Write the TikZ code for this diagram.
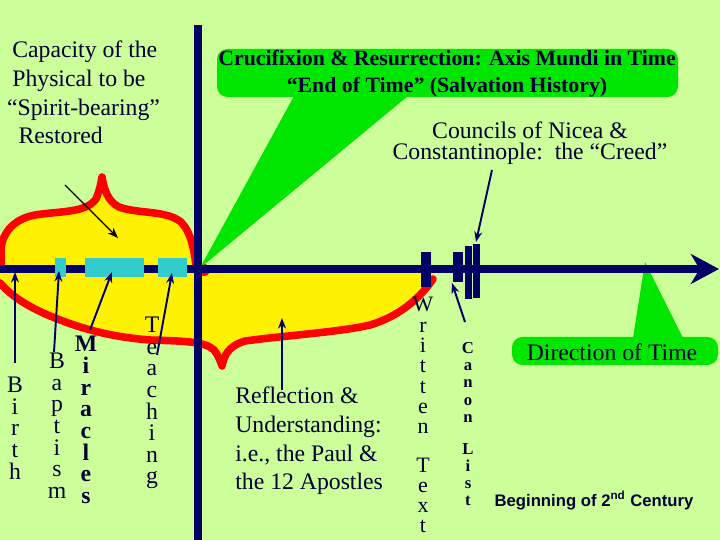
\documentclass[tikz,border=0pt]{standalone}
\usepackage{fontspec}
\setmainfont{Liberation Serif}
\setsansfont{Liberation Sans}
\usetikzlibrary{arrows.meta}
\definecolor{paleground}{RGB}{204,255,153}
\definecolor{navy}{RGB}{0,0,102}
\definecolor{inkblue}{RGB}{0,0,51}
\definecolor{calloutgreen}{RGB}{0,230,0}
\definecolor{eventcyan}{RGB}{51,204,204}
\definecolor{rimred}{RGB}{255,0,0}
\tikzset{
  axisline/.style={navy, line width=4pt},
  rim/.style={rimred, line width=4.3pt, line cap=round, line join=round},
  ptr/.style={navy, line width=1.1pt, -{Stealth[length=6pt,width=4.5pt]}},
  vword/.style={inkblue, anchor=base, inner sep=0pt, font=\fontsize{13.5}{13.5}\selectfont},
  vnarrow/.style={vword, font=\fontsize{12.5}{12.5}\selectfont},
  vbold/.style={vword, font=\fontsize{13.5}{13.5}\selectfont\bfseries},
  vsmall/.style={vword, font=\fontsize{9.5}{9.5}\selectfont\bfseries},
  blurb/.style={inkblue, inner sep=0pt}
}
\begin{document}
\begin{tikzpicture}[x=0.02cm, y=-0.02cm, font=\fontsize{13.5}{16.3}\selectfont]
  \useasboundingbox (0,0) rectangle (720,540);
  \fill[paleground] (0,0) rectangle (720,540);
  % the two yellow fields
  \fill[yellow] (0,269) -- (1,248) .. controls (3,232) and (14,219) .. (35,215)
    .. controls (60,211) and (86,213) .. (96,199) .. controls (99,192) and (101,184) .. (102,177)
    .. controls (104,188) and (107,201) .. (119,207) .. controls (138,214) and (166,210) .. (181,222)
    .. controls (191,232) and (195,252) .. (196,269) -- cycle;
  \fill[yellow] (0,269) -- (0,283) .. controls (12,297) and (30,308) .. (55,318)
    .. controls (80,328) and (110,337) .. (150,340) .. controls (180,341) and (205,341) .. (214,350)
    .. controls (218,355) and (220,360) .. (222,366) .. controls (224,356) and (228,346) .. (245,341)
    .. controls (290,335) and (340,332) .. (370,325) .. controls (400,316) and (420,298) .. (433,279)
    -- (433,269) -- cycle;
  \draw[rim] (1,268) -- (1,248) .. controls (3,232) and (14,219) .. (35,215)
    .. controls (60,211) and (86,213) .. (96,199) .. controls (99,192) and (101,184) .. (102,177)
    .. controls (104,188) and (107,201) .. (119,207) .. controls (138,214) and (166,210) .. (181,222)
    .. controls (191,232) and (195,252) .. (196,269);
  \fill[rimred] (204,270) circle (6);
  \draw[rim] (0,283) .. controls (12,297) and (30,308) .. (55,318)
    .. controls (80,328) and (110,337) .. (150,340) .. controls (180,341) and (205,341) .. (214,350)
    .. controls (218,355) and (220,360) .. (222,366) .. controls (224,356) and (228,346) .. (245,341)
    .. controls (290,335) and (340,332) .. (370,325) .. controls (400,316) and (420,298) .. (433,279);
  % callouts
  \fill[calloutgreen, rounded corners=6] (217,49) rectangle (678,97);
  \fill[calloutgreen] (294,96) -- (200,268) -- (408,96) -- cycle;
  \fill[calloutgreen, rounded corners=6] (512,337) rectangle (718,365);
  \fill[calloutgreen] (633,338) -- (645,262) -- (683,338) -- cycle;
  % axes
  \coordinate (tstart) at (0,269);
  \coordinate (tend) at (719,269);
  \coordinate (mundi-top) at (198,25);
  \coordinate (mundi-bot) at (198,540);
  \draw[axisline, -{Stealth[length=16pt,width=17pt,inset=5pt]}] (tstart) -- (tend);
  \draw[axisline, line width=4.5pt] (mundi-top) -- (mundi-bot);
  \foreach \lft/\rgt in {55/66,85/144,158/187}
    \fill[eventcyan] (\lft,258) rectangle (\rgt,277);
  \foreach \lft/\rgt/\top/\bot in {421/431/252/287,453/463/252/282,465/472/246/299,473/480/244/298}
    \fill[navy] (\lft,\top) rectangle (\rgt,\bot);
  % labels
  \node[blurb, anchor=north west, align=left] (capacity) at (12,40.7)
    {Capacity of the\\Physical to be\\\hspace*{-3pt}“Spirit-bearing”\\\hspace*{3.5pt}Restored};
  \node[blurb, align=center, font=\bfseries\fontsize{12.4}{15.3}\selectfont] (crosstxt) at (447,74)
    {Crucifixion \& Resurrection: Axis Mundi in Time\\“End of Time” (Salvation History)};
  \node[blurb, align=center, font=\fontsize{13.5}{12}\selectfont] (councils) at (530,143.5)
    {Councils of Nicea \&\\Constantinople:\ \ the “Creed”};
  \node[blurb, anchor=north west, align=left] (reflect) at (235,386.7)
    {Reflection \&\\Understanding:\\i.e., the Paul \&\\the 12 Apostles};
  \node[blurb, anchor=base] (direction) at (612,360) {Direction of Time};
  \node[blurb, anchor=base, font=\sffamily\bfseries\fontsize{9.5}{11}\selectfont] (secondcent) at (594,506)
    {Beginning of 2\textsuperscript{nd} Century};
  \foreach \ch [count=\k] in {B,i,r,t,h}
    \node[vword] (birth-\k) at (15,{393+21.5*(\k-1)}) {\ch};
  \foreach \ch [count=\k] in {B,a,p,t,i,s,m}
    \node[vword] (baptism-\k) at (57,{369+21.5*(\k-1)}) {\ch};
  \foreach \ch [count=\k] in {M,i,r,a,c,l,e,s}
    \node[vbold] (miracles-\k) at (86,{352+21.6*(\k-1)}) {\ch};
  \foreach \ch [count=\k] in {T,e,a,c,h,i,n,g}
    \node[vword] (teaching-\k) at (152,{333+21.5*(\k-1)}) {\ch};
  \foreach \ch [count=\k] in {W,r,i,t,t,e,n}
    \node[vnarrow] (written-\k) at (423,{312+20.3*(\k-1)}) {\ch};
  \foreach \ch [count=\k] in {T,e,x,t}
    \node[vnarrow] (text-\k) at (423,{472+20.3*(\k-1)}) {\ch};
  \foreach \ch [count=\k] in {C,a,n,o,n}
    \node[vsmall] (canon-\k) at (468,{354+17*(\k-1)}) {\ch};
  \foreach \ch [count=\k] in {L,i,s,t}
    \node[vsmall] (list-\k) at (468,{454+17*(\k-1)}) {\ch};
  % pointers
  \coordinate (capacity-tail) at (65,185);
  \coordinate (capacity-tip) at (118,238);
  \coordinate (birth-tail) at (15,363);
  \coordinate (birth-tip) at (15,272);
  \coordinate (baptism-tail) at (54,352);
  \coordinate (baptism-tip) at (59,271);
  \coordinate (miracles-tail) at (90,330);
  \coordinate (miracles-tip) at (112,272);
  \coordinate (teaching-tail) at (157,355);
  \coordinate (teaching-tip) at (172,273);
  \coordinate (reflect-tail) at (282,390);
  \coordinate (reflect-tip) at (282,318);
  \coordinate (canon-tail) at (465,322);
  \coordinate (canon-tip) at (452,283);
  \coordinate (councils-tail) at (492,170);
  \coordinate (councils-tip) at (476,242);
  \draw[ptr, black, line width=0.8pt] (capacity-tail) -- (capacity-tip);
  \foreach \ev in {birth,baptism,miracles,teaching,reflect,canon,councils}
    \draw[ptr] (\ev-tail) -- (\ev-tip);
\end{tikzpicture}
\end{document}
